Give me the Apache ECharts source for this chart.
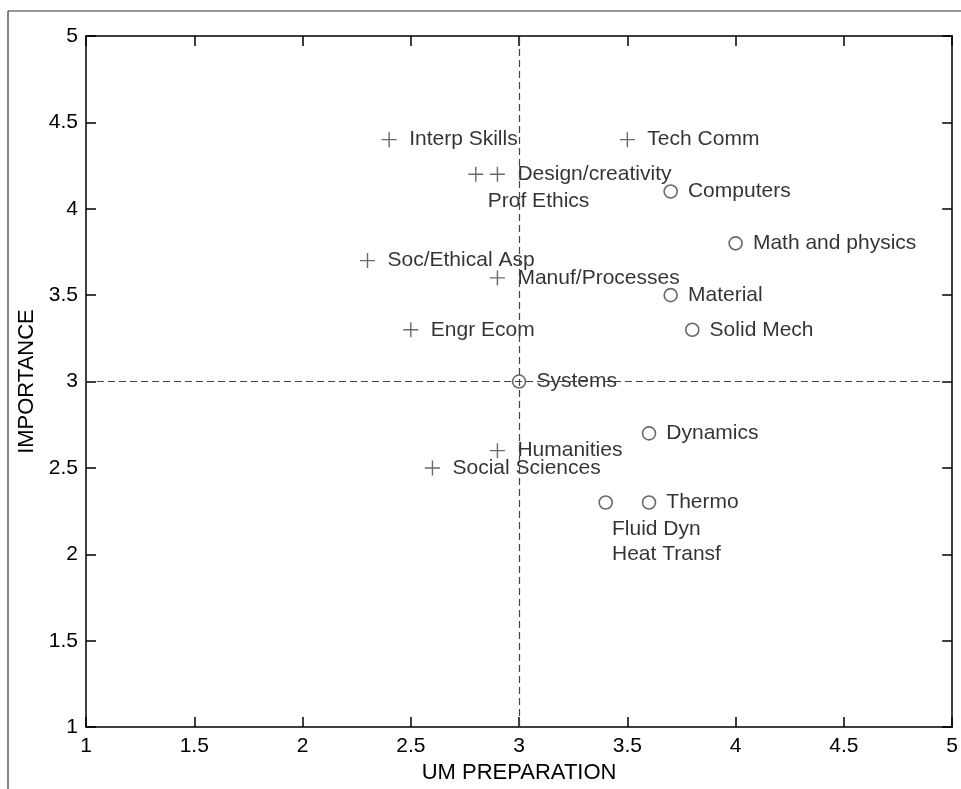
<!DOCTYPE html>
<html>
<head>
<meta charset="utf-8">
<script src="https://cdn.jsdelivr.net/npm/echarts@6/dist/echarts.min.js"></script>
<style>
html,body{margin:0;padding:0;background:#fff;}
#chart{width:961px;height:789px;}
</style>
</head>
<body>
<div id="chart"></div>
<script>
// Skills rated with "+" markers
var crossNames = ['Interp Skills', 'Tech Comm', 'Design/creativity', 'Prof Ethics', 'Soc/Ethical Asp', 'Manuf/Processes', 'Engr Ecom', 'Humanities', 'Social Sciences'];
var crossX = [2.4, 3.5, 2.9, 2.8, 2.3, 2.9, 2.5, 2.9, 2.6];
var crossY = [4.4, 4.4, 4.2, 4.2, 3.7, 3.6, 3.3, 2.6, 2.5];

// Skills rated with "o" markers
var circleNames = ['Computers', 'Math and physics', 'Material', 'Solid Mech', 'Systems', 'Dynamics', 'Thermo', 'Fluid Dyn\nHeat Transf'];
var circleX = [3.7, 4.0, 3.7, 3.8, 3.0, 3.6, 3.6, 3.4];
var circleY = [4.1, 3.8, 3.5, 3.3, 3.0, 2.7, 2.3, 2.3];

// Axis ranges / ticks
var xTicks = [1, 1.5, 2, 2.5, 3, 3.5, 4, 4.5, 5];
var yTicks = [1, 1.5, 2, 2.5, 3, 3.5, 4, 4.5, 5];
var refX = 3;
var refY = 3;

var FONT = 'Liberation Sans, Arial, Helvetica, sans-serif';
var chart = echarts.init(document.getElementById('chart'));

function buildData(names, xs, ys, specials) {
  return names.map(function (n, i) {
    var d = { name: n, value: [xs[i], ys[i]] };
    if (specials[n]) d.label = specials[n];
    return d;
  });
}

var crossSpecial = {
  'Prof Ethics': { offset: [-8, 27] }
};
var circleSpecial = {
  'Fluid Dyn\nHeat Transf': { offset: [-11, 39], lineHeight: 25 }
};

var labelBase = {
  show: true,
  position: 'right',
  distance: 10,
  color: '#000',
  fontFamily: FONT,
  fontSize: 21,
  formatter: function (p) { return p.name; }
};

function axisCommon(ticks) {
  return {
    type: 'value',
    min: ticks[0],
    max: ticks[ticks.length - 1],
    interval: 0.5,
    splitLine: { show: false },
    axisLine: { show: true, onZero: false, lineStyle: { color: '#000', width: 1.5 } },
    axisTick: { show: true, inside: true, length: 10, lineStyle: { color: '#000', width: 1.5 } }
  };
}

var xBottom = Object.assign(axisCommon(xTicks), {
  position: 'bottom',
  name: 'UM PREPARATION',
  nameLocation: 'middle',
  nameGap: 27,
  nameTextStyle: { color: '#000', fontFamily: FONT, fontSize: 22 },
  axisLabel: { color: '#000', fontFamily: FONT, fontSize: 21, margin: 9 }
});
var xTop = Object.assign(axisCommon(xTicks), {
  position: 'top',
  axisLabel: { show: false }
});
var yLeft = Object.assign(axisCommon(yTicks), {
  position: 'left',
  name: 'IMPORTANCE',
  nameLocation: 'middle',
  nameGap: 43,
  nameTextStyle: { color: '#000', fontFamily: FONT, fontSize: 22 },
  axisLabel: { color: '#000', fontFamily: FONT, fontSize: 21, margin: 8 }
});
var yRight = Object.assign(axisCommon(yTicks), {
  position: 'right',
  axisLabel: { show: false }
});

var option = {
  backgroundColor: '#fff',
  animation: false,
  grid: { left: 86, top: 36, right: 4, bottom: 58, containLabel: false },
  xAxis: [xBottom, xTop],
  yAxis: [yLeft, yRight],
  graphic: [
    { type: 'line', shape: { x1: 8, y1: 11, x2: 961, y2: 11 }, style: { stroke: '#333', lineWidth: 1.2 } },
    { type: 'line', shape: { x1: 8, y1: 11, x2: 8, y2: 789 }, style: { stroke: '#333', lineWidth: 1.2 } }
  ],
  series: [
    {
      type: 'scatter',
      xAxisIndex: 0,
      yAxisIndex: 0,
      symbol: 'path://M0,7L14,7M7,0L7,14',
      symbolSize: 15,
      itemStyle: { color: 'none', borderColor: '#444', borderWidth: 1.4 },
      label: labelBase,
      data: buildData(crossNames, crossX, crossY, crossSpecial),
      markLine: {
        silent: true,
        symbol: 'none',
        label: { show: false },
        lineStyle: { color: '#444', type: [7, 4], width: 1.2 },
        data: [{ xAxis: refX }, { yAxis: refY }]
      }
    },
    {
      type: 'scatter',
      xAxisIndex: 0,
      yAxisIndex: 0,
      symbol: 'circle',
      symbolSize: 13,
      itemStyle: { color: 'rgba(0,0,0,0)', borderColor: '#444', borderWidth: 1.6 },
      label: labelBase,
      data: buildData(circleNames, circleX, circleY, circleSpecial)
    }
  ]
};
chart.setOption(option);
</script>
</body>
</html>
